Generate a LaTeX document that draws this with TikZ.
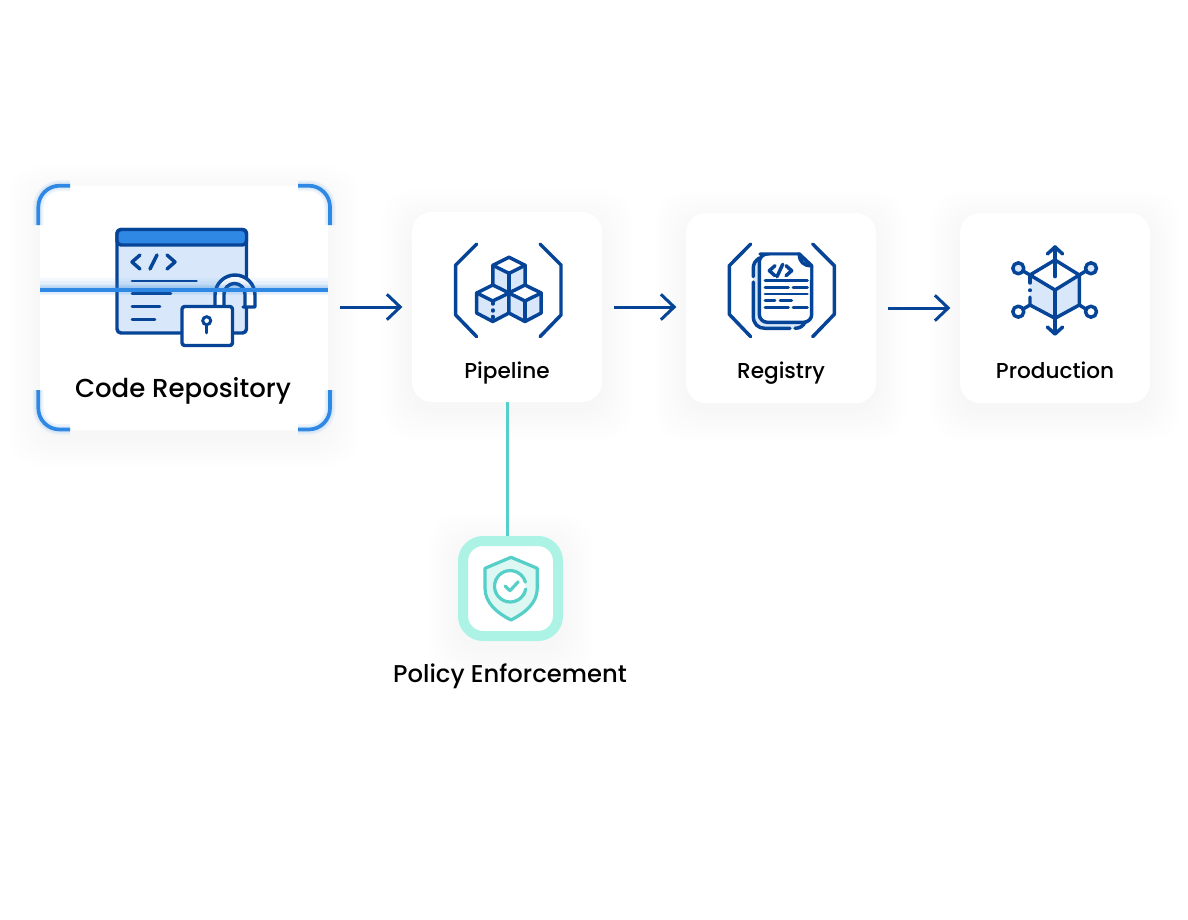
\documentclass[tikz,border=0pt]{standalone}
\usepackage{fontspec}
\setmainfont{Poppins}[UprightFont=* Medium]
\usetikzlibrary{arrows.meta}
\definecolor{navy}{HTML}{064497}
\definecolor{paleblue}{HTML}{D8E8FA}
\definecolor{scanblue}{HTML}{2F88E3}
\definecolor{teal}{HTML}{55CFC8}
\definecolor{mint}{HTML}{ADF3E5}
\definecolor{palemint}{HTML}{DDF7F3}
\tikzset{
  card/.style={fill=white,rounded corners=15pt,inner sep=0pt,minimum width=142.5pt,minimum height=142.5pt},
  cardlabel/.style={inner sep=0pt,anchor=base,font=\fontsize{16.2}{18}\selectfont},
  ico/.style={draw=navy,line width=2.6pt,line join=round,line cap=round},
  thinico/.style={draw=navy,line width=2.2pt,line cap=round},
  flow/.style={draw=navy,line width=2.25pt,-{Straight Barb[length=10pt,width=19pt,line width=2.25pt]},shorten <=9pt,shorten >=7pt},
  scan/.style={draw=scanblue,line width=2.8pt},
  tealline/.style={draw=teal,line width=2.4pt,line join=round,line cap=round}
}
\newcommand{\softshadow}[4]{
  \foreach \s in {2,6,...,30} {
    \fill[black,opacity=.0025,rounded corners=22pt] ({#1-\s},{#2-\s+8}) rectangle ({#3+\s},{#4+\s+8});
  }
}
\newcommand{\glowstroke}[1]{
  \foreach \w in {8,5.5} {\draw[scan,line width=\w pt,opacity=.08] #1;}
  \draw[scan] #1;
}
\newcommand{\cubeicon}[2]{
  \fill[paleblue] (#1-16.2,#2+8) -- (#1,#2+16) -- (#1+16.2,#2+8) -- (#1+16.2,#2+28) -- (#1,#2+36.5) -- (#1-16.2,#2+28) -- cycle;
  \draw[ico,fill=white] (#1,#2) -- (#1+16.2,#2+8) -- (#1,#2+16) -- (#1-16.2,#2+8) -- cycle;
  \draw[ico] (#1-16.2,#2+8) -- (#1-16.2,#2+28) -- (#1,#2+36.5) -- (#1+16.2,#2+28) -- (#1+16.2,#2+8);
}
\begin{document}
\begin{tikzpicture}[x=.75pt,y=-.75pt]
  \useasboundingbox (0,0) rectangle (1188,920);
  \softshadow{40}{186}{328}{430}
  \softshadow{412}{212}{602}{402}
  \softshadow{686}{213}{876}{403}
  \softshadow{960}{213}{1150}{403}
  \softshadow{458}{536}{563}{641}
  \node[card,minimum width=216pt,minimum height=183pt] (code) at (184,308) {};
  \node[card] (pipeline) at (507,307) {};
  \node[card] (registry) at (781,308) {};
  \node[card] (production) at (1055,308) {};
  \node[draw=mint,fill=white,line width=7.5pt,rounded corners=15pt,minimum size=71.25pt,inner sep=0pt] (policy) at (510.5,588.5) {};
  \node[cardlabel,font=\fontsize{19.5}{22}\selectfont] (codelabel) at (183,397) {Code Repository};
  \node[cardlabel] (pipelinelabel) at (507,378) {Pipeline};
  \node[cardlabel] (registrylabel) at (781,378) {Registry};
  \node[cardlabel] (productionlabel) at (1055,378) {Production};
  \node[cardlabel,font=\fontsize{18.2}{20}\selectfont] (policylabel) at (510,682) {Policy Enforcement};
  \draw[flow] (code.east |- pipeline.west) -- (pipeline.west);
  \draw[flow] (pipeline.east) -- (pipeline.east -| registry.west);
  \draw[flow] (registry.east) -- (production.west);
  \draw[draw=teal,line width=2.25pt] (pipeline.south) -- (pipeline.south |- policy.north);

  \draw[ico,fill=paleblue,rounded corners=3pt] (117,229.5) rectangle (246.5,333);
  \draw[ico,fill=scanblue,rounded corners=3pt] (117,229.5) -- (246.5,229.5) -- (246.5,245) -- (117,245) -- cycle;
  \draw[ico] (140,255) -- (132,262) -- (140,269);
  \draw[ico] (157,255) -- (150,269);
  \draw[ico] (167,255) -- (175,262) -- (167,269);
  \draw[thinico] (132,281) -- (196.5,281);
  \draw[thinico] (132,293.7) -- (171,293.7);
  \draw[thinico] (132,306.7) -- (160,306.7);
  \draw[thinico] (132,319.3) -- (155,319.3);
  \fill[white] (215,307) -- (215,295) arc[start angle=180,end angle=360,radius=20] -- (255,307) -- cycle;
  \fill[paleblue] (224,307) -- (224,294) arc[start angle=180,end angle=360,radius=10.5] -- (245,307) -- cycle;
  \draw[ico] (215,305) -- (215,295) arc[start angle=180,end angle=360,radius=20] -- (255,307) -- (243,307);
  \draw[ico] (224,305) -- (224,294) arc[start angle=180,end angle=360,radius=10.5] -- (245,307);
  \draw[ico,fill=white,rounded corners=2pt] (182,306.5) rectangle (232.5,345.5);
  \draw[thinico] (206.7,320.7) circle (4);
  \draw[thinico] (206.7,325) -- (206.7,333);
  \foreach \h in {3,6,9,12} {\fill[scanblue,opacity=.06] (40,{290-\h}) rectangle (328,290);}
  \glowstroke{(40,290) -- (328,290)}
  \glowstroke{(38.3,225) [rounded corners=16pt] -- (38.3,185.7) -- (70,185.7)}
  \glowstroke{(330,225) [rounded corners=16pt] -- (330,185.7) -- (298,185.7)}
  \glowstroke{(38.3,390) [rounded corners=16pt] -- (38.3,429.5) -- (70,429.5)}
  \glowstroke{(330,390) [rounded corners=16pt] -- (330,429.5) -- (298,429.5)}

  \draw[ico] (476.7,244) -- (455.7,265) -- (455.7,315) -- (476.7,336.7);
  \draw[ico] (540,244) -- (561,265) -- (561,315) -- (540,336.7);
  \cubeicon{509}{257.3}
  \cubeicon{492.8}{285}
  \cubeicon{525}{285}
  \draw[ico] (509,273) -- (509,290);
  \draw[ico] (492.8,301) -- (492.8,304);
  \draw[ico] (492.8,310) -- (492.8,311);
  \draw[ico] (492.8,316.5) -- (492.8,318);
  \draw[ico] (525,301) -- (525,320);

  \draw[ico] (750.7,244) -- (729.3,265.7) -- (729.3,314.3) -- (750.7,336.7);
  \draw[ico] (812.7,244) -- (834.3,265.7) -- (834.3,314.3) -- (812.7,336.7);
  \fill[paleblue,rounded corners=6pt] (753.3,258) rectangle (806,328.3);
  \draw[ico] (759.3,258) .. controls (755,261) and (753.3,264) .. (753.3,268) -- (753.3,276.7);
  \draw[ico] (753.3,282) -- (753.3,316) .. controls (753.3,324) and (758,328.3) .. (765,328.3) -- (790,328.3);
  \draw[ico] (795,328.3) .. controls (800,328.3) and (803,326) .. (805,322.3);
  \draw[ico,fill=white,rounded corners=6pt] (799.3,254) -- (768,254) -- (759.3,254) -- (759.3,322.3) -- (811.7,322.3) -- (811.7,265.7);
  \fill[white] (770,255.5) -- (799,255.5) -- (810,266) -- (810,280) -- (770,280) -- cycle;
  \draw[ico,fill=paleblue] (799.3,254) -- (811.7,265.7) .. controls (804,266) and (799.3,262) .. (799.3,254) -- cycle;
  \draw[ico] (775,265.7) -- (769.3,270.7) -- (775,275.7);
  \draw[ico] (782.7,264.3) -- (777,276.7);
  \draw[ico] (786,265.7) -- (791.7,270.7) -- (786,275.7);
  \draw[thinico] (765,280.7) -- (807.3,280.7);
  \draw[thinico] (765,287.3) -- (788.3,287.3);
  \draw[thinico] (793,287.3) -- (807.3,287.3);
  \draw[thinico] (765,294) -- (807.3,294);
  \draw[thinico] (765,300.7) -- (775,300.7);
  \draw[thinico] (780,300.7) -- (791.7,300.7);
  \draw[thinico] (765,307.3) -- (788.3,307.3);
  \draw[thinico] (793,307.3) -- (807.3,307.3);

  \fill[paleblue] (1030,275) -- (1055,290) -- (1079.3,275) -- (1079.3,305) -- (1055,318.3) -- (1030,305) -- cycle;
  \draw[ico] (1030,275) -- (1055,260) -- (1079.3,275) -- (1055,290) -- cycle;
  \draw[ico] (1079.3,275) -- (1079.3,305) -- (1055,318.3) -- (1030,305) -- (1030,297);
  \draw[ico] (1030,275) -- (1030,283);
  \draw[ico] (1030,290) -- (1030,290.5);
  \draw[ico] (1055,290) -- (1055,333.5);
  \draw[ico] (1055,276.7) -- (1055,247);
  \draw[ico] (1047.3,254) -- (1055,247) -- (1062.7,254);
  \draw[ico] (1047.3,327) -- (1055,334) -- (1062.7,327);
  \draw[ico] (1024,271.5) -- (1030,275);
  \draw[ico] (1085,271.5) -- (1079.3,275);
  \draw[ico] (1024,308.5) -- (1030,305);
  \draw[ico] (1085,308.5) -- (1079.3,305);
  \draw[ico,fill=paleblue] (1018.3,268.3) circle (5.5);
  \draw[ico,fill=paleblue] (1091,268.3) circle (5.5);
  \draw[ico,fill=white] (1018.3,311.7) circle (5.5);
  \draw[ico,fill=white] (1091,311.7) circle (5.5);

  \draw[tealline,fill=palemint] (511,557.3) -- (537.3,568.3) -- (537.3,588) .. controls (537.3,603) and (525,613) .. (511,620) .. controls (497,613) and (485,603) .. (485,588) -- (485,568.3) -- cycle;
  \fill[white] (510,586) circle (15.7);
  \draw[tealline] (525.7,589) arc[start angle=10,end angle=345,radius=15.7];
  \draw[tealline] (505,586) -- (510,590.7) -- (518.3,581.7);
\end{tikzpicture}
\end{document}
